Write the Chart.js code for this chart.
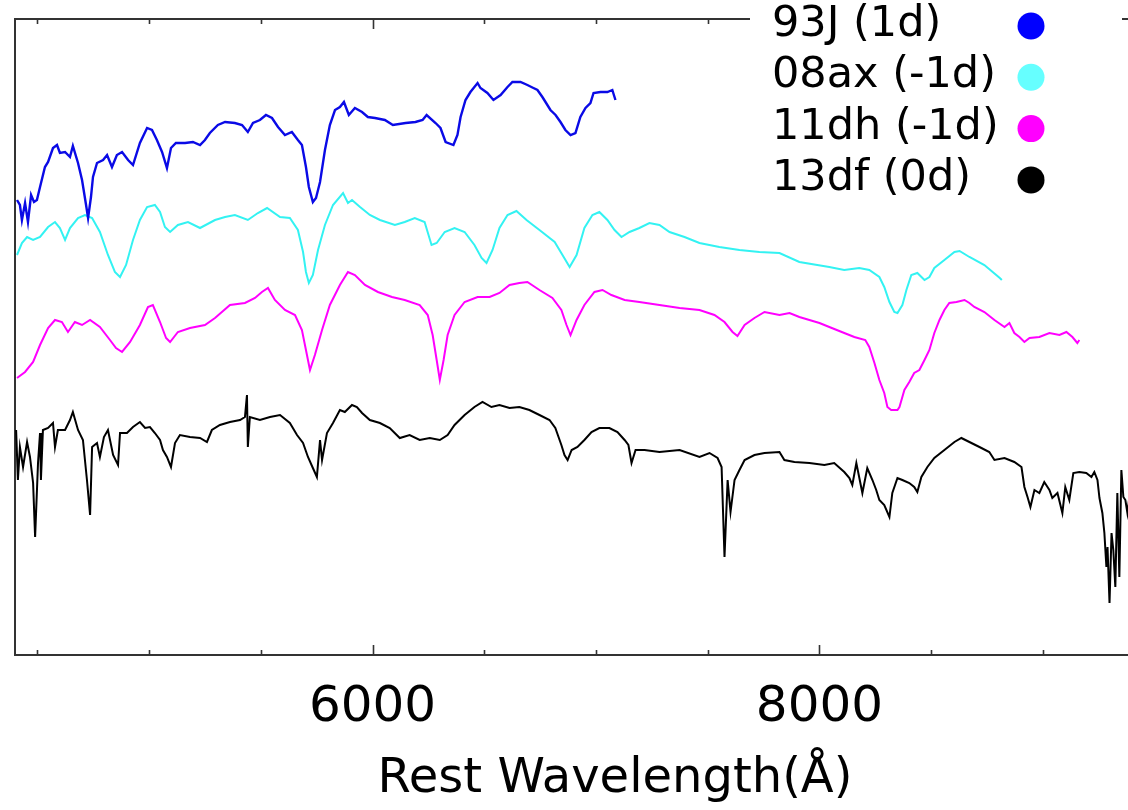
<!DOCTYPE html>
<html>
<head>
<meta charset="utf-8">
<script src="https://cdn.jsdelivr.net/npm/chart.js@4/dist/chart.umd.min.js"></script>
<style>
html,body{margin:0;padding:0;overflow:hidden;background:#fff;width:1128px;height:810px;}
#wrap{position:absolute;left:0;top:0;width:1220px;height:810px;}
</style>
</head>
<body>
<div id="wrap"><canvas id="c" width="1220" height="810"></canvas></div>
<script>
// ---------- DATA ----------
const seriesNames = ['93J (1d)', '08ax (-1d)', '11dh (-1d)', '13df (0d)'];
const lineColors = ['#0a0ae6', '#33f2f2', '#ff00ff', '#000000'];
const markerColors = ['#0000ff', '#66ffff', '#ff00ff', '#000000'];

const xTickLabels = [6000, 8000];
const xMinorTicks = [4500, 5000, 5500, 6000, 6500, 7000, 7500, 8000, 8500, 9000, 9500];

const wl93J = [4409,4422,4431,4445,4458,4472,4485,4498,4512,4534,4548,4570,4588,4601,4624,4646,4659,4682,4700,4718,4727,4740,4749,4767,4794,4812,4834,4856,4879,4906,4928,4959,4991,5013,5035,5058,5080,5098,5120,5161,5196,5228,5250,5272,5308,5340,5384,5416,5442,5465,5496,5523,5550,5577,5608,5639,5666,5684,5702,5715,5733,5747,5765,5787,5809,5832,5854,5872,5894,5921,5953,5979,6011,6055,6091,6148,6192,6224,6242,6282,6304,6327,6362,6380,6394,6416,6438,6470,6483,6514,6541,6573,6604,6626,6662,6693,6720,6738,6760,6774,6796,6819,6841,6863,6886,6908,6930,6953,6975,6989,7020,7051,7073,7087];
const fl93J = [4.55,4.50,4.35,4.52,4.33,4.60,4.53,4.55,4.68,4.88,4.93,5.07,5.10,5.02,5.03,4.98,5.09,4.92,4.75,4.50,4.37,4.58,4.78,4.92,4.95,5.00,4.88,5.00,5.03,4.95,4.90,5.12,5.27,5.25,5.15,5.03,4.87,5.07,5.12,5.12,5.13,5.10,5.15,5.22,5.30,5.33,5.32,5.30,5.23,5.32,5.35,5.40,5.37,5.28,5.20,5.23,5.15,5.10,4.88,4.68,4.53,4.57,4.73,5.05,5.30,5.45,5.48,5.53,5.40,5.47,5.43,5.38,5.37,5.35,5.30,5.32,5.33,5.35,5.40,5.32,5.27,5.13,5.10,5.20,5.38,5.55,5.63,5.72,5.67,5.62,5.55,5.60,5.68,5.73,5.73,5.70,5.67,5.65,5.58,5.53,5.45,5.40,5.33,5.25,5.20,5.22,5.38,5.47,5.52,5.62,5.63,5.63,5.65,5.55];

const wl08ax = [4409,4431,4454,4481,4512,4548,4579,4601,4624,4646,4682,4713,4745,4780,4816,4847,4870,4897,4928,4959,4991,5026,5049,5071,5094,5129,5174,5228,5295,5340,5384,5442,5487,5528,5586,5630,5666,5689,5702,5715,5733,5756,5787,5823,5868,5890,5908,5944,5988,6033,6100,6144,6189,6233,6264,6287,6323,6367,6412,6456,6488,6510,6537,6568,6604,6644,6689,6747,6815,6850,6882,6913,6948,6984,7015,7051,7083,7114,7150,7194,7239,7284,7329,7396,7463,7552,7642,7731,7821,7910,8044,8111,8178,8223,8268,8290,8313,8335,8349,8371,8389,8411,8438,8470,8492,8514,8559,8604,8627,8671,8738,8807,8816];
const fl08ax = [4.00,4.12,4.18,4.15,4.18,4.28,4.33,4.27,4.15,4.27,4.37,4.40,4.37,4.23,4.00,3.83,3.78,3.90,4.15,4.35,4.48,4.50,4.43,4.28,4.23,4.30,4.33,4.27,4.35,4.38,4.40,4.35,4.42,4.47,4.38,4.37,4.25,4.03,3.83,3.72,3.80,4.05,4.30,4.50,4.62,4.52,4.55,4.48,4.40,4.35,4.30,4.33,4.37,4.33,4.10,4.12,4.23,4.27,4.23,4.10,3.97,3.92,4.05,4.27,4.40,4.44,4.35,4.25,4.13,4.00,3.88,4.00,4.27,4.40,4.43,4.35,4.25,4.18,4.23,4.27,4.32,4.30,4.23,4.18,4.12,4.08,4.05,4.03,4.02,3.93,3.88,3.85,3.87,3.85,3.78,3.68,3.53,3.43,3.42,3.50,3.65,3.80,3.82,3.75,3.78,3.87,3.95,4.03,4.04,3.98,3.90,3.77,3.75];

const wl11dh = [4409,4445,4481,4512,4548,4579,4610,4637,4668,4700,4736,4780,4825,4852,4879,4915,4959,4995,5017,5049,5076,5094,5129,5183,5250,5295,5362,5429,5474,5505,5532,5563,5608,5653,5684,5702,5720,5742,5774,5809,5854,5890,5921,5966,6024,6087,6144,6211,6247,6269,6287,6301,6318,6336,6367,6412,6470,6524,6568,6613,6657,6693,6747,6805,6845,6868,6886,6913,6948,6993,7029,7069,7128,7194,7284,7374,7463,7530,7575,7611,7633,7665,7709,7754,7821,7866,7910,7955,8000,8044,8111,8156,8205,8223,8246,8268,8290,8304,8321,8349,8358,8380,8402,8424,8447,8470,8492,8514,8537,8559,8581,8613,8649,8671,8693,8738,8783,8828,8850,8872,8895,8917,8940,8984,9029,9074,9105,9132,9154,9163];
const fl11dh = [2.77,2.83,2.93,3.10,3.27,3.35,3.33,3.23,3.33,3.30,3.35,3.28,3.15,3.07,3.03,3.13,3.30,3.48,3.50,3.33,3.17,3.13,3.23,3.27,3.30,3.37,3.50,3.52,3.57,3.63,3.67,3.55,3.45,3.40,3.25,3.05,2.85,3.00,3.25,3.50,3.70,3.83,3.80,3.70,3.63,3.58,3.55,3.50,3.40,3.20,2.95,2.75,2.95,3.20,3.40,3.53,3.58,3.58,3.62,3.70,3.72,3.73,3.65,3.57,3.45,3.30,3.20,3.35,3.50,3.63,3.65,3.60,3.55,3.53,3.50,3.47,3.45,3.40,3.33,3.23,3.19,3.30,3.37,3.43,3.40,3.42,3.38,3.35,3.32,3.28,3.22,3.18,3.15,3.08,2.92,2.75,2.62,2.48,2.45,2.45,2.48,2.65,2.73,2.82,2.85,2.95,3.05,3.22,3.35,3.45,3.52,3.53,3.55,3.52,3.48,3.43,3.35,3.28,3.32,3.22,3.18,3.13,3.17,3.18,3.22,3.20,3.23,3.18,3.12,3.15];

const wl13df = [4405,4413,4422,4436,4454,4467,4481,4490,4503,4512,4516,4525,4548,4570,4579,4592,4624,4646,4659,4682,4704,4722,4736,4745,4767,4780,4798,4816,4839,4861,4870,4901,4928,4959,4982,5004,5026,5049,5062,5080,5098,5116,5138,5183,5228,5259,5281,5317,5362,5407,5429,5438,5442,5451,5496,5541,5586,5630,5662,5689,5711,5733,5751,5765,5774,5796,5823,5854,5876,5908,5930,5953,5988,6033,6077,6122,6166,6211,6256,6301,6336,6367,6412,6456,6492,6532,6568,6613,6657,6702,6747,6792,6818,6845,6859,6873,6891,6917,6948,6980,7015,7060,7096,7128,7145,7159,7177,7217,7284,7374,7463,7508,7544,7562,7575,7589,7602,7620,7642,7665,7709,7754,7821,7843,7888,7955,8022,8066,8111,8134,8147,8165,8192,8214,8237,8254,8268,8290,8313,8326,8349,8371,8402,8424,8438,8456,8483,8514,8559,8604,8635,8671,8716,8760,8783,8828,8872,8904,8917,8931,8944,8962,8984,9006,9029,9042,9065,9087,9100,9118,9136,9163,9194,9217,9230,9244,9253,9266,9275,9284,9289,9298,9307,9315,9324,9333,9342,9351,9360,9369,9378,9396];
const fl13df = [2.25,1.75,2.08,1.88,2.13,1.98,1.72,1.18,1.92,2.22,1.75,2.25,2.27,2.32,2.08,2.25,2.25,2.35,2.43,2.25,2.15,1.75,1.40,2.08,2.12,1.98,2.18,2.25,2.00,1.90,2.22,2.22,2.28,2.33,2.27,2.28,2.22,2.15,2.05,1.98,1.88,2.12,2.20,2.18,2.17,2.13,2.25,2.30,2.33,2.35,2.38,2.60,2.08,2.38,2.35,2.38,2.40,2.32,2.20,2.12,1.98,1.87,1.78,2.15,1.95,2.22,2.32,2.45,2.43,2.50,2.48,2.42,2.35,2.32,2.27,2.17,2.20,2.15,2.17,2.15,2.20,2.30,2.40,2.48,2.53,2.48,2.50,2.47,2.48,2.45,2.40,2.35,2.27,2.10,2.00,1.95,2.05,2.08,2.15,2.23,2.27,2.27,2.23,2.15,2.10,1.92,2.05,2.05,2.03,2.05,1.98,2.02,1.97,1.88,0.98,1.75,1.43,1.75,1.85,1.95,2.00,2.02,2.03,1.95,1.93,1.92,1.90,1.92,1.83,1.77,1.70,1.92,1.62,1.87,1.75,1.65,1.55,1.50,1.38,1.62,1.77,1.75,1.72,1.68,1.63,1.78,1.88,1.97,2.05,2.13,2.17,2.13,2.08,2.03,1.95,1.97,1.93,1.88,1.68,1.58,1.48,1.65,1.62,1.73,1.65,1.57,1.62,1.42,1.68,1.55,1.82,1.83,1.82,1.78,1.83,1.75,1.57,1.42,1.22,0.88,1.08,0.52,1.22,1.05,0.68,1.62,0.78,1.85,1.58,1.55,1.42,1.75];

const xMin = 4400, xMax = 9770, yMin = 0, yMax = 6.36;

// ---------- BUILD ----------
const wlList = [wl93J, wl08ax, wl11dh, wl13df];
const flList = [fl93J, fl08ax, fl11dh, fl13df];
const datasets = seriesNames.map((name, i) => ({
  label: name,
  data: wlList[i].map((w, k) => ({x: w, y: flList[i][k]})),
  borderColor: lineColors[i],
  borderWidth: i === 0 ? 2.4 : 2,
  pointRadius: 0,
  tension: 0,
  fill: false
}));

const FONT = '"DejaVu Sans", Verdana, sans-serif';

const framePlugin = {
  id: 'frame',
  beforeDatasetsDraw(chart) {
    const {ctx, chartArea: a, scales: {x}} = chart;
    ctx.save();
    ctx.strokeStyle = '#333333';
    ctx.lineWidth = 2;
    ctx.strokeRect(a.left, a.top, a.right - a.left, a.bottom - a.top);
    ctx.lineWidth = 1.6;
    xMinorTicks.forEach(v => {
      const px = Math.round(x.getPixelForValue(v)) + 0.5;
      const len = xTickLabels.includes(v) ? 10 : 5;
      ctx.beginPath();
      ctx.moveTo(px, a.bottom); ctx.lineTo(px, a.bottom - len);
      ctx.moveTo(px, a.top); ctx.lineTo(px, a.top + len);
      ctx.stroke();
    });
    ctx.restore();
  },
  afterDraw(chart) {
    const ctx = chart.ctx;
    ctx.save();
    ctx.fillStyle = '#ffffff';
    ctx.fillRect(750, 0, 372, 205);
    ctx.font = '43px ' + FONT;
    ctx.textBaseline = 'middle';
    ctx.textAlign = 'left';
    chart.data.datasets.forEach((ds, i) => {
      const y = 25 + i * 51.3;
      ctx.fillStyle = '#000000';
      ctx.fillText(ds.label, 772, y);
      ctx.beginPath();
      ctx.arc(1031, y + 1, 13.5, 0, Math.PI * 2);
      ctx.fillStyle = markerColors[i];
      ctx.fill();
    });
    ctx.restore();
  }
};

new Chart(document.getElementById('c'), {
  type: 'line',
  data: {datasets},
  options: {
    responsive: false,
    animation: false,
    devicePixelRatio: 1,
    layout: {padding: {left: 15, top: 19, right: 5, bottom: 0}},
    plugins: {legend: {display: false}, tooltip: {enabled: false}},
    scales: {
      x: {
        type: 'linear',
        min: xMin, max: xMax,
        afterFit: s => { s.height = 155; },
        afterBuildTicks: s => { s.ticks = xTickLabels.map(v => ({value: v})); },
        grid: {display: false, drawTicks: false},
        border: {display: false},
        ticks: {
          autoSkip: false, maxRotation: 0, padding: 23,
          color: '#000000',
          font: {family: FONT, size: 50},
          callback: v => String(v)
        },
        title: {
          display: true,
          text: 'Rest Wavelength(Å)',
          color: '#000000',
          font: {family: FONT, size: 48},
          padding: {top: 0, bottom: 2}
        }
      },
      y: {type: 'linear', display: false, min: yMin, max: yMax}
    }
  },
  plugins: [framePlugin]
});
</script>
</body>
</html>
